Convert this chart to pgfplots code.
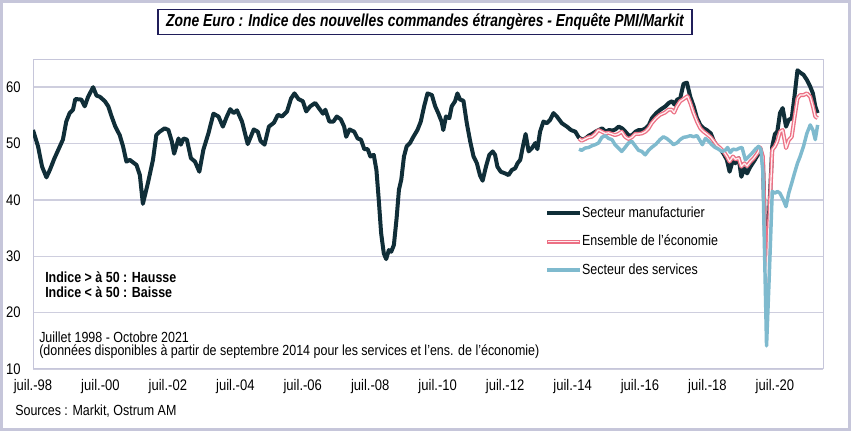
\documentclass[border=0pt]{standalone}
\usepackage{fontspec}
\setmainfont[FakeStretch=0.85]{Liberation Sans}
\newfontfamily\titlefont[FakeStretch=0.8]{Liberation Sans}
\usepackage{pgfplots}
\usepackage{pgfplotstable}
\pgfplotsset{compat=1.18}

\definecolor{manu}{RGB}{16,46,56}
\definecolor{ens}{RGB}{236,112,132}
\definecolor{ensin}{RGB}{255,236,239}
\definecolor{serv}{RGB}{127,186,206}
\definecolor{gridc}{RGB}{206,206,222}
\definecolor{framec}{RGB}{198,198,218}
\definecolor{titlebox}{RGB}{32,30,90}

\pgfplotstableread{
t v
1998.50 52.4
1998.65 49.5
1998.77 45.9
1998.90 44.0
1999.00 45.3
1999.14 47.4
1999.39 50.7
1999.49 53.9
1999.59 55.4
1999.69 56.0
1999.76 57.9
1999.94 57.8
2000.04 56.6
2000.14 58.3
2000.29 60.0
2000.39 58.5
2000.49 58.3
2000.64 57.5
2000.74 56.6
2000.84 54.8
2000.95 53.0
2001.08 51.5
2001.18 49.5
2001.28 46.8
2001.38 47.1
2001.58 46.2
2001.68 44.4
2001.77 39.3
2001.92 43.0
2002.07 47.1
2002.17 51.5
2002.27 52.1
2002.42 52.7
2002.53 52.4
2002.63 50.4
2002.70 48.2
2002.83 50.9
2002.90 49.8
2002.98 50.9
2003.08 50.7
2003.20 47.4
2003.32 46.8
2003.45 45.0
2003.57 48.9
2003.72 51.8
2003.87 55.3
2004.02 54.8
2004.15 53.0
2004.27 54.8
2004.37 56.1
2004.47 55.4
2004.57 55.9
2004.72 53.9
2004.89 49.9
2005.07 52.5
2005.19 52.1
2005.27 50.5
2005.39 49.8
2005.52 53.0
2005.67 53.7
2005.79 55.1
2005.91 54.8
2006.06 55.7
2006.18 58.0
2006.28 58.9
2006.40 57.9
2006.53 57.5
2006.63 55.7
2006.75 56.6
2006.90 57.2
2007.03 56.1
2007.13 55.3
2007.20 56.0
2007.32 53.9
2007.44 53.9
2007.54 54.8
2007.66 54.3
2007.76 53.0
2007.82 51.2
2007.92 52.5
2008.06 52.1
2008.16 50.9
2008.26 50.7
2008.36 49.0
2008.46 49.0
2008.54 47.7
2008.64 48.0
2008.72 45.3
2008.79 40.0
2008.86 34.1
2008.94 30.5
2009.01 29.5
2009.09 31.1
2009.16 30.8
2009.24 32.0
2009.32 36.7
2009.39 41.8
2009.46 43.6
2009.54 47.7
2009.62 49.5
2009.72 50.1
2009.82 51.2
2009.94 52.4
2010.04 53.9
2010.14 56.6
2010.24 58.9
2010.37 58.6
2010.47 56.6
2010.56 55.4
2010.66 53.9
2010.71 52.4
2010.79 54.8
2010.89 54.5
2010.96 56.6
2011.06 57.5
2011.13 58.9
2011.21 57.8
2011.31 57.6
2011.41 53.6
2011.51 50.4
2011.61 47.7
2011.71 46.5
2011.80 44.4
2011.88 43.4
2011.98 45.9
2012.08 48.0
2012.18 48.6
2012.25 48.0
2012.32 45.9
2012.42 45.0
2012.55 44.7
2012.65 44.4
2012.75 45.3
2012.85 45.6
2012.92 46.5
2013.00 47.1
2013.08 49.5
2013.16 51.7
2013.25 48.6
2013.35 49.2
2013.45 50.1
2013.51 49.0
2013.59 52.1
2013.69 53.9
2013.79 53.6
2013.89 54.2
2013.99 55.4
2014.09 54.8
2014.24 53.6
2014.39 53.0
2014.51 52.4
2014.64 52.1
2014.74 51.1
2014.84 50.7
2014.94 50.9
2015.04 51.4
2015.14 51.7
2015.24 52.1
2015.34 52.4
2015.44 52.7
2015.54 52.1
2015.64 52.4
2015.74 52.3
2015.83 52.5
2015.93 53.0
2016.03 52.7
2016.13 52.1
2016.23 51.4
2016.33 51.5
2016.43 52.1
2016.53 52.4
2016.63 52.4
2016.73 52.7
2016.83 53.3
2016.92 54.5
2017.05 55.4
2017.17 56.0
2017.32 56.6
2017.42 57.2
2017.52 57.5
2017.59 56.9
2017.67 57.8
2017.76 58.0
2017.86 60.6
2017.96 60.8
2018.06 58.3
2018.16 56.6
2018.26 54.5
2018.36 53.3
2018.46 52.7
2018.55 52.4
2018.67 51.8
2018.75 50.6
2018.85 49.5
2018.95 49.0
2019.05 48.2
2019.15 47.1
2019.23 45.0
2019.33 47.1
2019.40 46.5
2019.50 47.4
2019.58 44.1
2019.67 45.6
2019.75 44.7
2019.85 45.9
2019.95 46.8
2020.07 48.0
2020.14 49.2
2020.22 47.1
2020.33 25.5
2020.41 38.0
2020.50 49.5
2020.58 51.7
2020.65 52.1
2020.73 55.4
2020.81 56.3
2020.91 53.0
2020.99 54.2
2021.08 54.5
2021.16 58.3
2021.25 63.0
2021.33 62.6
2021.43 62.2
2021.53 61.3
2021.63 60.1
2021.71 58.9
2021.78 56.6
2021.85 55.4
}\manutable

\pgfplotstableread{
t v
2014.75 50.9
2014.83 50.5
2014.93 50.8
2015.03 51.1
2015.13 51.2
2015.23 51.7
2015.33 52.4
2015.43 52.1
2015.53 51.8
2015.63 51.9
2015.73 51.7
2015.82 51.5
2015.92 51.7
2016.02 52.1
2016.12 51.2
2016.22 50.8
2016.32 51.1
2016.42 51.7
2016.52 51.7
2016.62 51.8
2016.72 52.1
2016.82 52.7
2016.91 53.6
2017.04 54.5
2017.16 55.1
2017.31 55.5
2017.41 56.0
2017.51 56.0
2017.58 55.5
2017.66 56.6
2017.76 57.5
2017.86 57.9
2017.93 58.2
2017.98 58.4
2018.06 57.2
2018.16 55.4
2018.26 53.9
2018.36 52.7
2018.46 52.1
2018.55 51.7
2018.67 51.1
2018.75 50.5
2018.85 49.7
2018.95 49.2
2019.05 48.6
2019.15 47.7
2019.23 46.8
2019.33 47.7
2019.40 47.2
2019.50 47.4
2019.58 45.9
2019.67 46.5
2019.75 46.0
2019.85 46.8
2019.95 47.4
2020.07 48.4
2020.14 49.3
2020.22 47.7
2020.33 23.5
2020.41 36.5
2020.50 48.9
2020.58 49.5
2020.65 50.4
2020.73 52.1
2020.81 52.4
2020.91 49.2
2020.99 50.6
2021.08 51.2
2021.16 54.5
2021.25 58.0
2021.33 58.6
2021.43 58.6
2021.53 58.9
2021.63 58.3
2021.71 56.6
2021.78 54.8
2021.85 54.5
}\enstable

\pgfplotstableread{
t v
2014.75 49.0
2014.83 48.8
2014.93 49.2
2015.03 49.3
2015.13 49.6
2015.23 49.8
2015.33 50.1
2015.43 51.1
2015.53 51.4
2015.63 50.9
2015.73 50.7
2015.82 49.8
2015.92 49.2
2016.02 48.6
2016.12 49.3
2016.22 50.1
2016.32 50.4
2016.42 49.6
2016.52 48.8
2016.62 48.6
2016.72 48.0
2016.82 48.8
2016.91 49.3
2017.04 49.9
2017.16 50.7
2017.26 51.2
2017.36 50.9
2017.46 50.4
2017.56 49.8
2017.66 50.1
2017.76 50.7
2017.86 51.1
2017.96 51.2
2018.06 51.4
2018.16 51.2
2018.26 51.4
2018.36 50.4
2018.42 49.8
2018.51 50.9
2018.61 50.4
2018.70 49.8
2018.80 49.3
2018.90 49.0
2019.00 48.6
2019.10 48.8
2019.17 49.3
2019.25 48.4
2019.33 49.0
2019.43 48.9
2019.53 49.2
2019.60 49.3
2019.70 47.1
2019.80 47.7
2019.90 48.3
2020.00 49.0
2020.09 49.5
2020.16 49.0
2020.22 45.0
2020.33 14.1
2020.41 26.4
2020.50 41.5
2020.58 41.2
2020.65 41.5
2020.73 41.2
2020.83 40.0
2020.91 38.8
2020.99 41.2
2021.08 43.0
2021.16 44.7
2021.25 46.5
2021.33 47.7
2021.43 49.5
2021.53 51.8
2021.63 53.3
2021.71 52.4
2021.78 50.7
2021.85 53.3
}\servtable

\begin{document}
\begin{tikzpicture}[x=0.75pt,y=0.75pt]
\useasboundingbox (0,0) rectangle (851,431);
\fill[white] (0,0) rectangle (851,431);
\draw[framec, line width=2.25pt] (1.5,1.5) rectangle (849.5,429.5);
\begin{axis}[
  at={(24.75pt,46.5pt)}, anchor=south west,
  scale only axis, width=592.5pt, height=232.5pt,
  xmin=1998.5, xmax=2022.01, ymin=10, ymax=65,
  ytick={10,20,30,40,50,60},
  xtick={1998.5,2000.507,2002.514,2004.521,2006.529,2008.536,2010.543,2012.55,2014.557,2016.564,2018.571,2020.579},
  xticklabels={juil.-98,juil.-00,juil.-02,juil.-04,juil.-06,juil.-08,juil.-10,juil.-12,juil.-14,juil.-16,juil.-18,juil.-20},
  ymajorgrids,
  grid style={gridc, line width=1.1pt},
  axis line style={framec, line width=0.75pt},
  major tick length=0pt,
  tick style={draw=none},
  /pgf/number format/assume math mode=true,
  yticklabel style={font=\fontsize{11.5}{13}\selectfont, anchor=east, inner sep=0pt, xshift=-9pt},
  xticklabel style={font=\fontsize{11.5}{13}\selectfont, anchor=base, inner sep=0pt, yshift=-16.5pt},
  legend style={at={(0.648,0.411)}, anchor=west, draw=none, fill=none, inner sep=0pt,
    font=\fontsize{11}{13}\selectfont, row sep=11.4pt,
    nodes={inner sep=0pt, text height=8pt, text depth=2pt}},
  legend cell align=left,
  /tikz/every even column/.append style={column sep=2pt},
  line join=round,
]
\addplot[manu, line width=3pt, legend image code/.code={\draw[manu,line width=3pt] (0pt,0pt) -- (24.75pt,0pt);}] table[x=t,y=v] {\manutable};
\addlegendentry{Secteur manufacturier}
\addplot[ens, line width=3pt, legend image code/.code={\draw[ens,line width=3pt] (0pt,0pt) -- (24.75pt,0pt); \draw[ensin,line width=1pt] (0.8pt,0pt) -- (23.95pt,0pt);}] table[x=t,y=v] {\enstable};
\addlegendentry{Ensemble de l'économie}
\addplot[ensin, line width=1pt, forget plot] table[x=t,y=v] {\enstable};
\addplot[serv, line width=2.6pt, legend image code/.code={\draw[serv,line width=2.6pt] (0pt,0pt) -- (24.75pt,0pt);}] table[x=t,y=v] {\servtable};
\addlegendentry{Secteur des services}
\end{axis}
\node[draw=titlebox, line width=1.1pt, fill=white, minimum width=400.5pt, minimum height=18.75pt, inner sep=0pt, font=\titlefont\bfseries\itshape\fontsize{13}{15}\selectfont] at (425,409) {Zone Euro : Indice des nouvelles commandes étrangères - Enquête PMI/Markit};
\node[anchor=west, inner sep=0pt, font=\bfseries\fontsize{11}{13}\selectfont] at (45,154) {Indice > à 50 : Hausse};
\node[anchor=west, inner sep=0pt, font=\bfseries\fontsize{11}{13}\selectfont] at (45,139) {Indice < à 50 : Baisse};
\node[anchor=west, inner sep=0pt, font=\fontsize{11}{13}\selectfont] at (39,94) {Juillet 1998 - Octobre 2021};
\node[anchor=west, inner sep=0pt, font=\fontsize{11}{13}\selectfont] at (39,79) {(données disponibles à partir de septembre 2014 pour les services et l'ens. de l'économie)};
\node[anchor=west, inner sep=0pt, font=\fontsize{11}{13}\selectfont] at (15,20) {Sources : Markit, Ostrum AM};
\end{tikzpicture}
\end{document}
